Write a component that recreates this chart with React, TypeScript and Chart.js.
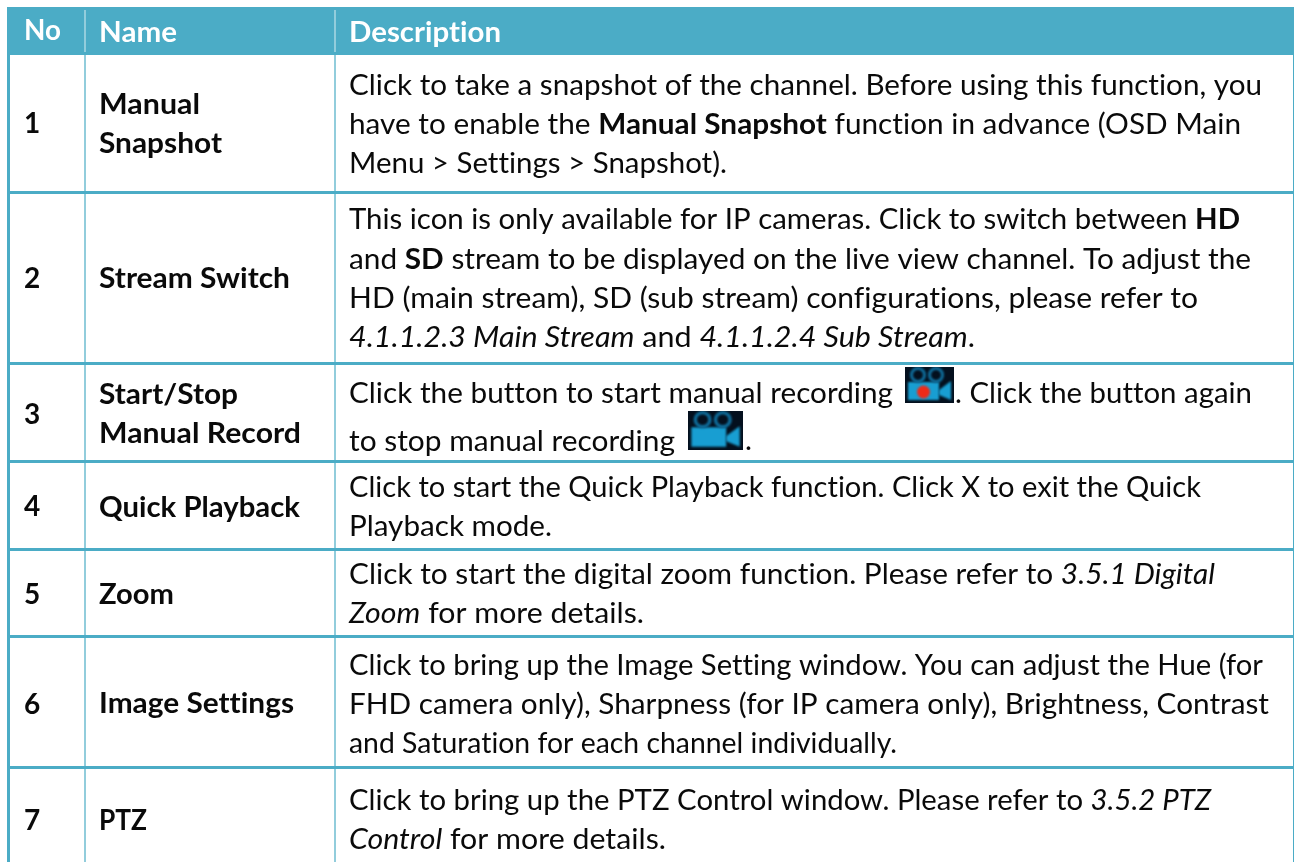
import React, { useEffect, useRef } from "react";
import { Chart, registerables } from "chart.js";

Chart.register(...registerables);

const W = 1294;
const H = 862;
const TEAL = "#4bacc6";
const LIGHT = "#92cddc";

const columnLines = [85, 335];
const rowLines = [192.5, 363.5, 461.5, 549.5, 636.5, 767.5];
const headerLabels = ["No", "Name", "Description"];
const headerLefts = [24, 99, 349];
const headerWidths = [37, 78, 152];
const headerBaselines = [40, 42, 42];
const numbers = ["1", "2", "3", "4", "5", "6", "7"];
const numberBaselines = [133, 288, 424, 516, 604, 714, 830];
const names = [["Manual", "Snapshot"], ["Stream Switch"], ["Start/Stop", "Manual Record"], ["Quick Playback"], ["Zoom"], ["Image Settings"], ["PTZ"]];
const nameWidths = [[101, 123], [191], [139, 202], [201], [75], [195], [48]];
const nameBaselines = [[114, 153], [288], [404, 443], [517], [604], [713], [830]];

// each line: [left, baseline, width, runs]; run kinds: r = regular, b = bold, i = italic
type Run = [string, string];
const descriptionLines: [number, number, number, Run[]][] = [
  [349, 95, 913, [["r", "Click to take a snapshot of the channel. Before using this function, you"]]],
  [349, 134, 892, [["r", "have to enable the "], ["b", "Manual Snapshot"], ["r", " function in advance (OSD Main"]]],
  [349, 173, 378, [["r", "Menu > Settings > Snapshot)."]]],
  [349, 229, 891, [["r", "This icon is only available for IP cameras. Click to switch between "], ["b", "HD"]]],
  [349, 269, 902, [["r", "and "], ["b", "SD"], ["r", " stream to be displayed on the live view channel. To adjust the"]]],
  [349, 308, 849, [["r", "HD (main stream), SD (sub stream) configurations, please refer to"]]],
  [349, 347, 626, [["i", "4.1.1.2.3 Main Stream"], ["r", " and "], ["i", "4.1.1.2.4 Sub Stream"], ["r", "."]]],
  [349, 403, 544, [["r", "Click the button to start manual recording"]]],
  [955, 403, 297, [["r", ". Click the button again"]]],
  [349, 451, 326, [["r", "to stop manual recording"]]],
  [745, 450, 7, [["r", "."]]],
  [349, 497, 852, [["r", "Click to start the Quick Playback function. Click X to exit the Quick"]]],
  [349, 536, 203, [["r", "Playback mode."]]],
  [349, 584, 866, [["r", "Click to start the digital zoom function. Please refer to "], ["i", "3.5.1 Digital"]]],
  [349, 623, 295, [["i", "Zoom"], ["r", " for more details."]]],
  [349, 675, 914, [["r", "Click to bring up the Image Setting window. You can adjust the Hue (for"]]],
  [349, 714, 920, [["r", "FHD camera only), Sharpness (for IP camera only), Brightness, Contrast"]]],
  [349, 753, 548, [["r", "and Saturation for each channel individually."]]],
  [349, 810, 862, [["r", "Click to bring up the PTZ Control window. Please refer to "], ["i", "3.5.2 PTZ"]]],
  [349, 849, 317, [["i", "Control"], ["r", " for more details."]]],
];

const FONT = "Lato";
const SIZE = 28;
const fontFor = (k: string) =>
  `${k === "b" ? "bold " : k === "i" ? "italic " : ""}${SIZE}px ${FONT}`;

function fitRuns(ctx: CanvasRenderingContext2D, runs: Run[], x: number, y: number, width: number) {
  let natural = 0;
  runs.forEach(([k, t]) => {
    ctx.font = fontFor(k);
    natural += ctx.measureText(t).width;
  });
  const s = width / natural;
  let cur = x;
  runs.forEach(([k, t]) => {
    ctx.font = fontFor(k);
    const w = ctx.measureText(t).width;
    ctx.save();
    ctx.translate(cur, y);
    ctx.scale(s, 1);
    ctx.fillText(t, 0, 0);
    ctx.restore();
    cur += w * s;
  });
}

function drawIcon(ctx: CanvasRenderingContext2D, x: number, y: number, w: number, h: number, red: boolean) {
  const sx = w / 49;
  const sy = h / 36;
  ctx.save();
  ctx.fillStyle = "#04101e";
  ctx.fillRect(x, y, w, h);
  ctx.beginPath();
  ctx.rect(x, y, w, h);
  ctx.clip();
  ctx.filter = "blur(0.8px)";
  ctx.translate(x, y);
  ctx.scale(sx, sy);
  ctx.fillStyle = "#189ed2";
  ctx.fillRect(3, 15, 31, 18);
  ctx.beginPath();
  ctx.moveTo(34, 23);
  ctx.lineTo(46, 14);
  ctx.lineTo(46, 33);
  ctx.lineTo(34, 28);
  ctx.closePath();
  ctx.fill();
  ctx.strokeStyle = "#0f6f9e";
  ctx.lineWidth = 3;
  for (const cx of [13, 31]) {
    ctx.beginPath();
    ctx.arc(cx, 8, 6.5, 0, Math.PI * 2);
    ctx.stroke();
  }
  if (red) {
    ctx.fillStyle = "#f02a18";
    ctx.beginPath();
    ctx.arc(18.5, 25, 6.5, 0, Math.PI * 2);
    ctx.fill();
  }
  ctx.restore();
}

const tablePlugin = {
  id: "tableText",
  afterDatasetsDraw(chart: any) {
    const { ctx, scales } = chart;
    const px = (v: number) => scales.x.getPixelForValue(v);
    const py = (v: number) => scales.y.getPixelForValue(v);
    ctx.save();
    ctx.textBaseline = "alphabetic";
    ctx.textAlign = "left";
    (ctx as any).letterSpacing = "0.01px";

    ctx.fillStyle = "#ffffff";
    headerLabels.forEach((t, i) =>
      fitRuns(ctx, [["b", t]], px(headerLefts[i]), py(headerBaselines[i]), headerWidths[i]),
    );

    ctx.fillStyle = "#0a0a0a";
    numbers.forEach((n, i) => {
      ctx.font = fontFor("b");
      ctx.fillText(n, px(24), py(numberBaselines[i]));
    });
    names.forEach((lines, i) =>
      lines.forEach((t, j) =>
        fitRuns(ctx, [["b", t]], px(99), py(nameBaselines[i][j]), nameWidths[i][j]),
      ),
    );

    descriptionLines.forEach(([x, y, w, runs]) => fitRuns(ctx, runs, px(x), py(y), w));

    drawIcon(ctx, px(905), py(367), 49, 36, true);
    drawIcon(ctx, px(688), py(411), 55, 39, false);
    ctx.restore();
  },
};

export default function App() {
  const ref = useRef<HTMLCanvasElement>(null);
  useEffect(() => {
    document.body.style.margin = "0";
    const hLine = (y: number, color: string, width: number, x0 = 7, x1 = W) => ({
      data: [{ x: x0, y }, { x: x1, y }],
      borderColor: color,
      borderWidth: width,
      pointRadius: 0,
    });
    const vLine = (x: number, color: string, width: number, y0: number, y1: number) => ({
      data: [{ x, y: y0 }, { x, y: y1 }],
      borderColor: color,
      borderWidth: width,
      pointRadius: 0,
    });
    // Chart.js draws the first dataset on top, so the list runs from top layer to bottom.
    const chart = new Chart(ref.current!, {
      type: "line",
      data: {
        datasets: [
          ...columnLines.map((x) => vLine(x, LIGHT, 2, 10, 52)),
          vLine(8.5, TEAL, 3, 7, H),
          vLine(1293.5, TEAL, 1, 7, H),
          ...rowLines.map((y) => hLine(y, TEAL, 3)),
          hLine(31, TEAL, 48),
          ...columnLines.map((x) => vLine(x, LIGHT, 2, 55, H)),
        ] as any,
      },
      options: {
        animation: false,
        responsive: false,
        parsing: false,
        layout: { padding: 0 },
        plugins: { legend: { display: false }, tooltip: { enabled: false } },
        scales: {
          x: { type: "linear", min: 0, max: W, display: false },
          y: { type: "linear", min: 0, max: H, reverse: true, display: false },
        },
      },
      plugins: [tablePlugin],
    });
    return () => chart.destroy();
  }, []);
  return <canvas ref={ref} width={W} height={H} style={{ display: "block" }} />;
}
